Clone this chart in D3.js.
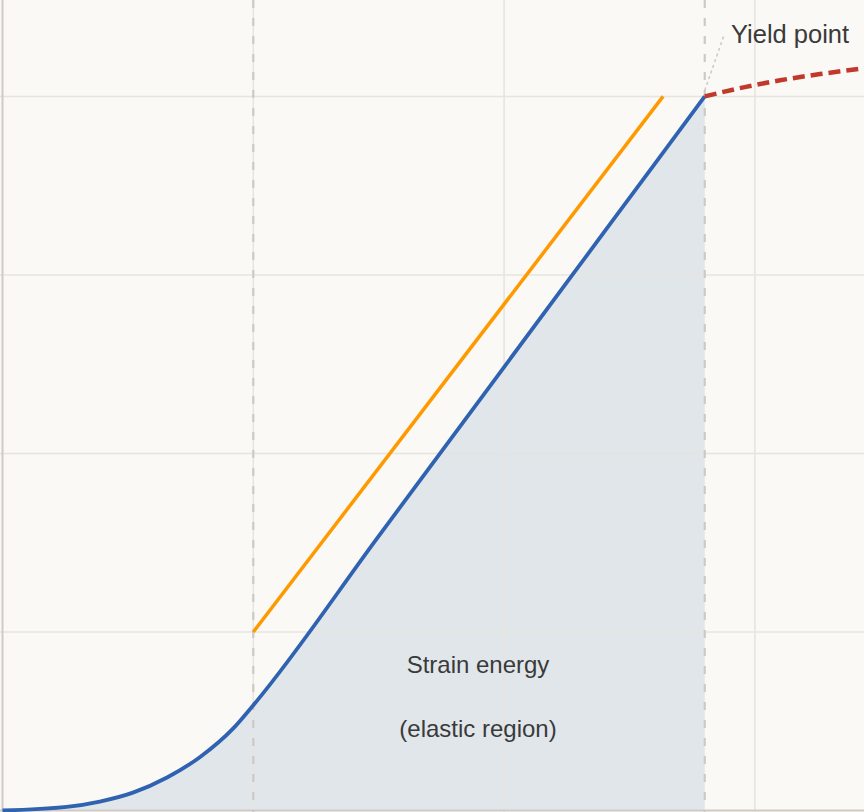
<!DOCTYPE html>
<html>
<head>
<meta charset="utf-8">
<script src="https://cdn.jsdelivr.net/npm/d3@7"></script>
<style>
  html, body { margin: 0; padding: 0; background: #faf9f5; }
  svg { display: block; }
  text { font-family: "Liberation Sans", Arial, Helvetica, sans-serif; fill: #3a3a3a; }
</style>
</head>
<body>
<svg id="chart" width="864" height="812"></svg>
<script>
// ---- data (strain, stress in chart units) ----
const curveStrain = [0, 0.256, 0.388, 0.52, 0.656, 0.788, 0.92, 1.0, 1.5, 2.0, 2.4, 2.8];
const curveStress = [0, 0.02, 0.05, 0.10, 0.185, 0.30, 0.46, 0.59, 1.537, 2.484, 3.242, 4.0];

const fitStrain = [1.0, 2.634];
const fitStress = [1.0, 4.0];

const plasticStrain = [2.8, 2.969, 3.1, 3.26, 3.45];
const plasticStress = [4.0, 4.055, 4.09, 4.125, 4.16];

const xTicks = [1, 2, 3];
const yTicks = [1, 2, 3, 4];
const markerStrain = [1.0, 2.8];

const yieldLabel = "Yield point";
const energyLabels = ["Strain energy", "(elastic region)"];

// ---- chart ----
const W = 864, H = 812;
const svg = d3.select("#chart");
const x = d3.scaleLinear().domain([0, 3.435]).range([2.5, 864]);
const y = d3.scaleLinear().domain([0, 4.54]).range([810.5, 0]);

svg.append("rect").attr("width", W).attr("height", H).attr("fill", "#faf9f5");

const curve = curveStrain.map((s, i) => [s, curveStress[i]]);
const fit = fitStrain.map((s, i) => [s, fitStress[i]]);
const plastic = plasticStrain.map((s, i) => [s, plasticStress[i]]);

const smooth = d3.line().x(d => x(d[0])).y(d => y(d[1])).curve(d3.curveMonotoneX);
const straight = d3.line().x(d => x(d[0])).y(d => y(d[1]));

// area under curve
svg.append("path").datum(curve)
  .attr("fill", "#e1e6eb")
  .attr("d", d3.area().x(d => x(d[0])).y0(y(0)).y1(d => y(d[1])).curve(d3.curveMonotoneX));

// grid
svg.append("g").selectAll("line").data(yTicks).join("line")
  .attr("x1", 0).attr("x2", W)
  .attr("y1", d => y(d)).attr("y2", d => y(d))
  .attr("stroke", "#e6e4df").attr("stroke-width", 1.5);
svg.append("g").selectAll("line").data(xTicks).join("line")
  .attr("y1", 0).attr("y2", H)
  .attr("x1", d => x(d)).attr("x2", d => x(d))
  .attr("stroke", "#e6e4df").attr("stroke-width", 1.5);

// axes
svg.append("line").attr("x1", x(0)).attr("x2", x(0)).attr("y1", 0).attr("y2", H)
  .attr("stroke", "#cfccc6").attr("stroke-width", 2);
svg.append("line").attr("x1", 0).attr("x2", W).attr("y1", y(0)).attr("y2", y(0))
  .attr("stroke", "#cfccc6").attr("stroke-width", 2);

// dashed markers
svg.append("g").selectAll("line").data(markerStrain).join("line")
  .attr("x1", d => x(d)).attr("x2", d => x(d))
  .attr("y1", 0).attr("y2", H)
  .attr("stroke", "#cccac5").attr("stroke-width", 2.2)
  .attr("stroke-dasharray", "8,10");

// fit line
svg.append("path").datum(fit)
  .attr("fill", "none").attr("stroke", "#ff9900").attr("stroke-width", 3.5)
  .attr("d", straight);

// stress-strain curve
svg.append("path").datum(curve)
  .attr("fill", "none").attr("stroke", "#2f62b0").attr("stroke-width", 3.8)
  .attr("stroke-linejoin", "round")
  .attr("d", smooth);

// plastic region
svg.append("path").datum(plastic)
  .attr("fill", "none").attr("stroke", "#c0392b").attr("stroke-width", 4.5)
  .attr("stroke-dasharray", "12,6")
  .attr("d", smooth);

// yield leader
svg.append("line")
  .attr("x1", x(2.8)).attr("y1", y(4.0) - 6)
  .attr("x2", x(2.8) + 19).attr("y2", 36)
  .attr("stroke", "#cccac5").attr("stroke-width", 1.5).attr("stroke-dasharray", "3,3");

svg.append("text").attr("x", 731).attr("y", 43)
  .attr("font-size", 25.5).text(yieldLabel);

svg.append("g").selectAll("text").data(energyLabels).join("text")
  .attr("x", 478).attr("y", (d, i) => 673 + i * 64)
  .attr("text-anchor", "middle").attr("font-size", 24)
  .text(d => d);
</script>
</body>
</html>
